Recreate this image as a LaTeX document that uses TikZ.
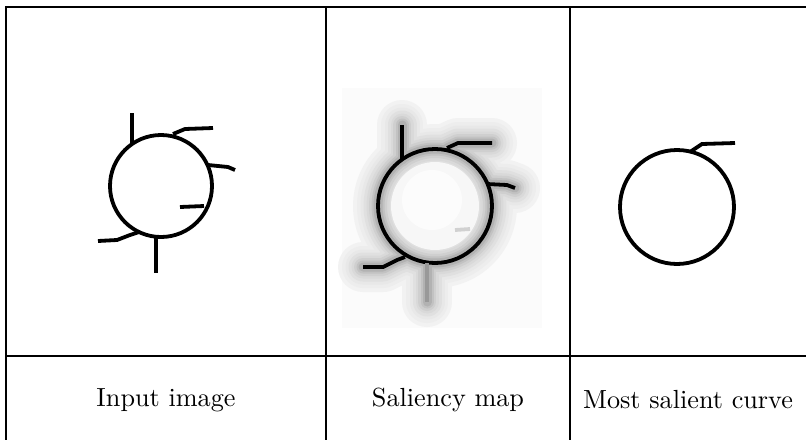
\documentclass[tikz,border=0pt]{standalone}
\usepackage{tikz}

\tikzset{
  rule/.style={line width=2.5pt},
  stroke/.style={line width=3.8pt, line join=miter},
  halo/.style={line cap=round, line join=round},
  caption/.style={scale=2.62, inner sep=0pt}
}

\begin{document}
\begin{tikzpicture}[x=1pt,y=-1pt]
\useasboundingbox (0,0) rectangle (806,440);
% table rules
\draw[rule] (806,7) -- (6,7) -- (6,440);
\draw[rule] (326,7) -- (326,440);
\draw[rule] (570,7) -- (570,440);
\draw[rule] (6,356) -- (806,356);

% input image
\draw[stroke] (161,186) circle [radius=51];
\draw[stroke] (132,113) -- (132,143);
\draw[stroke] (173,134) -- (185,129) -- (213,128);
\draw[stroke] (208,165) -- (228,167) -- (235,170);
\draw[stroke] (180,207) -- (204,206);
\draw[stroke] (98,241) -- (117,240) -- (130,235) -- (139,232);
\draw[stroke] (156,237) -- (156,273);

% saliency map
\fill[black!1.5] (342,88) rectangle (542,328);
\fill[black!4] (435,206) circle [radius=74];
\foreach \w/\g in {50/5,42/7,35/9,29/12,23/15,18/19,13/24,9/30} {
  \draw[halo, line width=\w pt, black!\g] (435,206) circle [radius=57];
  \draw[halo, line width=\w pt, black!\g] (402,125) -- (402,160);
  \draw[halo, line width=\w pt, black!\g] (447,148) -- (458,143) -- (492,143);
  \draw[halo, line width=\w pt, black!\g] (487,184) -- (507,185) -- (515,188);
  \draw[halo, line width=\w pt, black!\g] (363,267) -- (383,267) -- (397,260) -- (405,257);
  \draw[halo, line width=\w pt, black!\g] (427,263) -- (427,302);
}
\fill[black!3] (435,206) circle [radius=44];
\fill[black!1] (432,200) circle [radius=30];
\draw[stroke] (435,206) circle [radius=57];
\draw[stroke] (402,125) -- (402,160);
\draw[stroke] (447,148) -- (458,143) -- (492,143);
\draw[stroke] (487,184) -- (507,185) -- (515,188);
\draw[stroke, black!18] (455,230) -- (470,229);
\draw[stroke] (363,267) -- (383,267) -- (397,260) -- (405,257);
\draw[stroke, black!40] (427,263) -- (427,302);

% most salient curve
\draw[stroke] (677,207) circle [radius=57];
\draw[stroke] (690,152) -- (702,144) -- (735,143);

% captions
\node[caption] (inlabel) at (166,400) {Input image};
\node[caption] (maplabel) at (448,400) {Saliency map};
\node[caption] (curvelabel) at (688,400) {Most salient curve};
\end{tikzpicture}
\end{document}
